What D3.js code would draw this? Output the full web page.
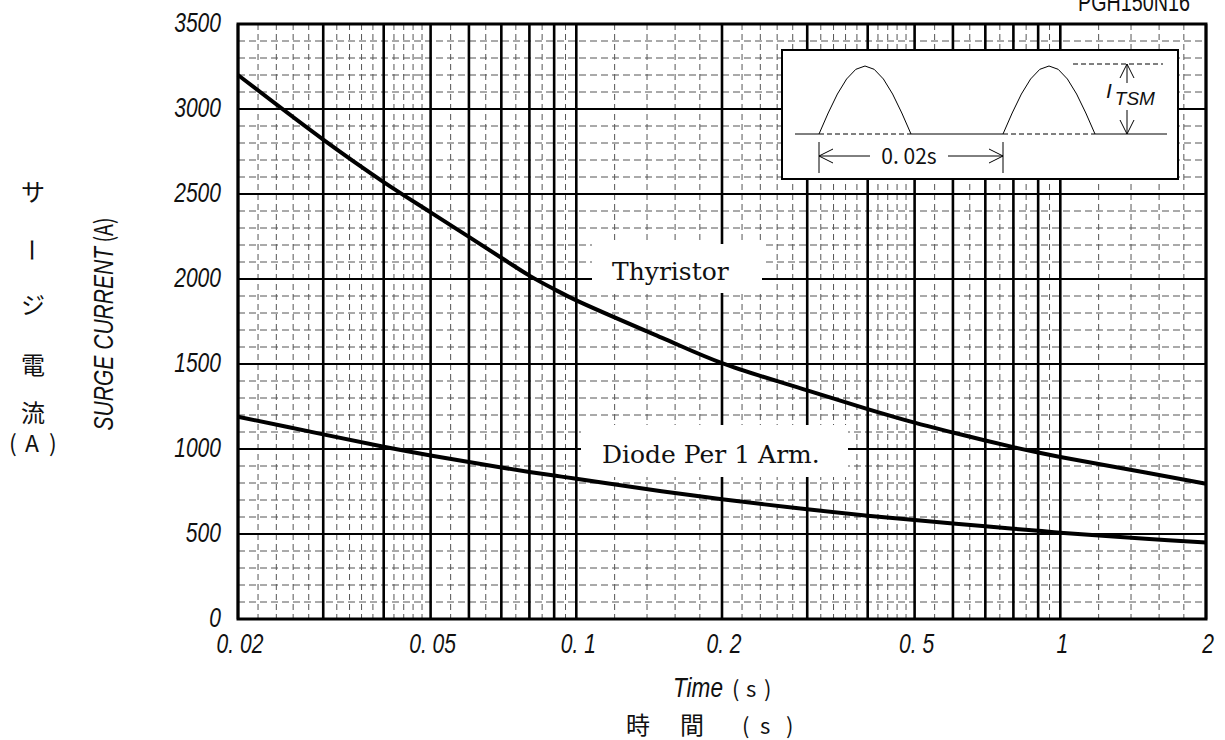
<!DOCTYPE html>
<html lang="ja">
<head>
<meta charset="UTF-8">
<title>PGH150N16 surge current</title>
<script src="https://d3js.org/d3.v7.min.js"></script>
<style>
  body { margin: 0; background: #fff; }
  svg { display: block; }
  .tick-lab { font-family: "Liberation Sans", Arial, sans-serif; font-style: italic; font-size: 27px; fill: #111; }
  .jp { font-family: "Noto Sans CJK JP", sans-serif; fill: #111; }
  .serif { font-family: "DejaVu Serif", serif; font-size: 25px; fill: #111; }
</style>
</head>
<body>
<div id="chart"></div>
<script>
// values
const timeS = [0.02, 0.03, 0.04, 0.05, 0.06, 0.07, 0.08, 0.09, 0.1, 0.15, 0.2, 0.3, 0.4, 0.5, 0.6, 0.7, 0.8, 0.9, 1, 1.5, 2];
const thyristorA = [3200, 2820, 2570, 2392, 2248, 2125, 2020, 1940, 1874, 1655, 1505, 1345, 1235, 1155, 1097, 1050, 1011, 979, 953, 862, 796];
const diodeA = [1190, 1086, 1013, 962, 924, 891, 865, 844, 825, 752, 705, 645, 608, 583, 562, 545, 531, 519, 507, 472, 450];

const xTickVals = [0.02, 0.05, 0.1, 0.2, 0.5, 1, 2];
const xTickText = ["0. 02", "0. 05", "0. 1", "0. 2", "0. 5", "1", "2"];
const yTickVals = [0, 500, 1000, 1500, 2000, 2500, 3000, 3500];

const width = 1225, height = 740;
const pL = 238, pR = 1206, pT = 24, pB = 619;
const narrow = 0.78; // the original uses a condensed face

const x = d3.scaleLog().domain([0.02, 2]).range([pL, pR]);
const y = d3.scaleLinear().domain([0, 3500]).range([pB, pT]);

const svg = d3.select("#chart").append("svg")
  .attr("width", width).attr("height", height);

// grid values: solid at every integer step of each decade, dashed in between
const majorX = [], minorX = [];
[0.01, 0.1, 1].forEach(dec => {
  for (let m = 1; m <= 9; m++) {
    const v = +(m * dec).toPrecision(3);
    if (v >= 0.02 && v <= 2) majorX.push(v);
    const subs = m < 5 ? [0.2, 0.4, 0.6, 0.8] : [0.5];
    subs.forEach(s => {
      const w = +((m + s) * dec).toPrecision(4);
      if (w > 0.02 && w < 2) minorX.push(w);
    });
  }
});
const majorY = d3.range(0, 3501, 500);
const minorY = d3.range(100, 3500, 100).filter(v => v % 500 !== 0);

const grid = svg.append("g");
grid.selectAll(".mnx").data(minorX).join("line")
  .attr("x1", d => x(d)).attr("x2", d => x(d))
  .attr("y1", pT).attr("y2", pB)
  .attr("stroke", "#555").attr("stroke-width", 1).attr("stroke-dasharray", "6,4");
grid.selectAll(".mny").data(minorY).join("line")
  .attr("x1", pL).attr("x2", pR)
  .attr("y1", d => y(d)).attr("y2", d => y(d))
  .attr("stroke", "#555").attr("stroke-width", 1).attr("stroke-dasharray", "7,4");
grid.selectAll(".mjx").data(majorX).join("line")
  .attr("x1", d => x(d)).attr("x2", d => x(d))
  .attr("y1", pT).attr("y2", pB)
  .attr("stroke", "#000").attr("stroke-width", 2.6);
grid.selectAll(".mjy").data(majorY).join("line")
  .attr("x1", pL).attr("x2", pR)
  .attr("y1", d => y(d)).attr("y2", d => y(d))
  .attr("stroke", "#000").attr("stroke-width", 2.2);
svg.append("rect")
  .attr("x", pL).attr("y", pT)
  .attr("width", pR - pL).attr("height", pB - pT)
  .attr("fill", "none").attr("stroke", "#000").attr("stroke-width", 3);

// curves
const line = d3.line()
  .x(d => x(d[0])).y(d => y(d[1]))
  .curve(d3.curveCatmullRom.alpha(0.5));
[thyristorA, diodeA].forEach(vals => {
  svg.append("path")
    .datum(timeS.map((t, i) => [t, vals[i]]))
    .attr("d", line)
    .attr("fill", "none").attr("stroke", "#000")
    .attr("stroke-width", 4).attr("stroke-linejoin", "round");
});

// curve labels on white boxes
function label(txt, x0, y0, w, h, tx, ty) {
  svg.append("rect").attr("x", x0).attr("y", y0).attr("width", w).attr("height", h).attr("fill", "#fff");
  svg.append("text").attr("class", "serif").attr("x", tx).attr("y", ty).text(txt);
}
label("Thyristor", 592, 244, 170, 49, 612, 280);
label("Diode Per 1 Arm.", 581, 425, 267, 52, 602, 463);

// tick labels
svg.append("g").selectAll("text").data(yTickVals).join("text")
  .attr("class", "tick-lab")
  .attr("transform", d => `translate(221,${y(d) + 8}) scale(${narrow},1)`)
  .attr("text-anchor", "end")
  .text(d => d);
svg.append("g").selectAll("text").data(xTickVals).join("text")
  .attr("class", "tick-lab")
  .attr("transform", d => `translate(${x(d) + 2},653) scale(${narrow},1)`)
  .attr("text-anchor", "middle")
  .text((d, i) => xTickText[i]);

// axis titles
const yt = svg.append("text")
  .attr("transform", `translate(113,324) rotate(-90) scale(${narrow},1)`)
  .attr("text-anchor", "middle");
yt.append("tspan").attr("class", "tick-lab").attr("font-size", 28).text("SURGE CURRENT");
yt.append("tspan").attr("class", "jp").attr("font-size", 25).text(" (A)");

const jpY = [["サ", 190], ["ー", 250], ["ジ", 303], ["電", 363], ["流", 411]];
jpY.forEach(([c, cy]) => {
  svg.append("text").attr("class", "jp").attr("font-size", 24)
    .attr("text-anchor", "middle").attr("dominant-baseline", "central")
    .attr("transform", c === "ー" ? `translate(33,${cy}) rotate(90)` : `translate(33,${cy})`)
    .text(c);
});
const ja = svg.append("text").attr("class", "jp").attr("font-size", 23).attr("y", 452);
ja.append("tspan").attr("x", 9).text("(");
ja.append("tspan").attr("x", 25).text("A");
ja.append("tspan").attr("x", 49).text(")");

const xt = svg.append("text").attr("y", 697);
xt.append("tspan").attr("class", "tick-lab").attr("font-size", 25).attr("x", 673)
  .attr("textLength", 50).attr("lengthAdjust", "spacingAndGlyphs").text("Time");
xt.append("tspan").attr("class", "jp").attr("font-size", 22).attr("x", 732).text("(");
xt.append("tspan").attr("class", "jp").attr("font-size", 22).attr("x", 746).text("s");
xt.append("tspan").attr("class", "jp").attr("font-size", 22).attr("x", 764).text(")");

svg.append("text").attr("class", "jp").attr("font-size", 24).attr("x", 638).attr("y", 734)
  .attr("text-anchor", "middle").text("時");
svg.append("text").attr("class", "jp").attr("font-size", 24).attr("x", 692).attr("y", 734)
  .attr("text-anchor", "middle").text("間");
const js = svg.append("text").attr("class", "jp").attr("font-size", 22).attr("y", 734);
js.append("tspan").attr("x", 742).text("(");
js.append("tspan").attr("x", 760).text("s");
js.append("tspan").attr("x", 786).text(")");

svg.append("text")
  .attr("transform", "translate(1190,11) scale(0.76,1)")
  .attr("text-anchor", "end")
  .attr("font-family", "'Liberation Sans', Arial, sans-serif")
  .attr("font-size", 26).attr("fill", "#111")
  .text("PGH150N16");

// inset: waveform sketch
const ins = svg.append("g");
ins.append("rect").attr("x", 782).attr("y", 50).attr("width", 396).attr("height", 129)
  .attr("fill", "#fff").attr("stroke", "#000").attr("stroke-width", 2);
const base = 134, peak = 66;
function seg(x1, y1, x2, y2, dash) {
  const l = ins.append("line").attr("x1", x1).attr("y1", y1).attr("x2", x2).attr("y2", y2)
    .attr("stroke", "#000").attr("stroke-width", 1);
  if (dash) l.attr("stroke-dasharray", dash);
  return l;
}
seg(795, base, 819, base); seg(819, base, 911, base, "5,3");
seg(911, base, 1003, base); seg(1003, base, 1096, base, "5,3");
seg(1096, base, 1167, base);
const hump = d3.line();
[819, 1003].forEach(x0 => {
  const pts = d3.range(0, 11).map(k => [x0 + k * 9.2, base - (base - peak) * Math.sin(Math.PI * k / 10)]);
  ins.append("path").attr("d", hump(pts)).attr("fill", "none").attr("stroke", "#000").attr("stroke-width", 1);
});
seg(1073, 64, 1163, 64, "5,3");
// vertical arrow
seg(1127, 64, 1127, 83); seg(1127, 110, 1127, base);
ins.append("path").attr("d", "M1120,78L1127,64L1134,78M1120,120L1127,134L1134,120")
  .attr("fill", "none").attr("stroke", "#000").attr("stroke-width", 1);
const it = ins.append("text").attr("x", 1106).attr("y", 98)
  .attr("font-family", "'Liberation Sans', sans-serif").attr("font-style", "italic").attr("fill", "#111");
it.append("tspan").attr("font-size", 21).text("I");
it.append("tspan").attr("font-size", 19).attr("dy", 7).attr("dx", 3).text("TSM");
// horizontal 0.02s arrow
seg(819, 142, 819, 173); seg(1003, 142, 1003, 173);
seg(819, 156, 870, 156); seg(948, 156, 1003, 156);
ins.append("path").attr("d", "M833,149L819,156L833,163M989,149L1003,156L989,163")
  .attr("fill", "none").attr("stroke", "#000").attr("stroke-width", 1);
ins.append("text").attr("class", "jp").attr("font-size", 21).attr("x", 909).attr("y", 164)
  .attr("text-anchor", "middle").text("0. 02s");
</script>
</body>
</html>
